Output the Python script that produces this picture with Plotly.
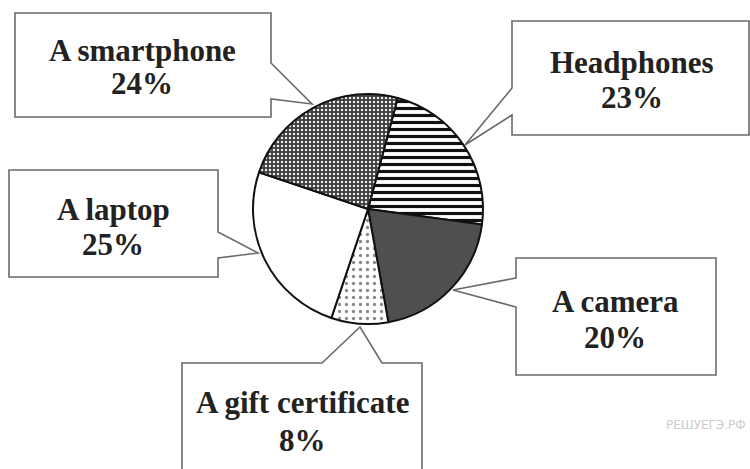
import plotly.graph_objects as go

# ---- data ----
categories = ["Headphones", "A camera", "A gift certificate", "A laptop", "A smartphone"]
values = [23, 20, 8, 25, 24]
label_texts = ["23%", "20%", "8%", "25%", "24%"]

W, H = 750, 469

def px(x):
    return x / W

def py(y):
    return 1 - y / H

# pie geometry (pixels)
cx, cy, r = 368, 209, 115

fig = go.Figure()
fig.add_trace(go.Pie(
    labels=categories,
    values=values,
    sort=False,
    direction="clockwise",
    rotation=15,
    textinfo="none",
    hoverinfo="skip",
    showlegend=False,
    domain=dict(x=[px(cx - r), px(cx + r)], y=[py(cy + r), py(cy - r)]),
    marker=dict(
        colors=["white", "#4f4f4f", "white", "white", "#3c3c3c"],
        line=dict(color="#111111", width=2),
        pattern=dict(
            shape=["-", "", ".", "", "."],
            fgcolor=["#111111", "#4f4f4f", "#8a8a8a", "white", "#eeeeee"],
            bgcolor=["white", "#4f4f4f", "white", "white", "#3c3c3c"],
            size=[7, 6, 7, 6, 4],
            solidity=[0.45, 0.3, 0.18, 0.3, 0.3],
            fillmode="replace",
        ),
    ),
))

# callout boxes: (polygon in pixel coords), text centre x, line-1 y, line-2 y
boxes = [
    # Headphones
    ([(512, 21), (749, 21), (749, 135), (512, 135), (512, 115), (465, 145), (512, 88)],
     632, 62, 98),
    # A camera
    ([(516, 258), (716, 258), (716, 375), (516, 375), (516, 307), (453, 290), (516, 278)],
     615, 301, 337),
    # A gift certificate
    ([(182, 363), (322, 363), (360, 327), (382, 363), (422, 363), (422, 472), (182, 472)],
     302, 402, 440),
    # A laptop
    ([(9, 170), (218, 170), (218, 232), (258, 253), (218, 258), (218, 277), (9, 277)],
     113, 209, 245),
    # A smartphone
    ([(15, 13), (271, 13), (271, 63), (312, 104), (271, 99), (271, 117), (15, 117)],
     142, 51, 84),
]

shapes = []
annotations = []
font = dict(family="'Times New Roman', 'Liberation Serif', 'DejaVu Serif', serif",
            size=31, color="#222222")
for i, (poly, tx, ty1, ty2) in enumerate(boxes):
    path = "M " + " L ".join(f"{px(x):.5f},{py(y):.5f}" for x, y in poly) + " Z"
    shapes.append(dict(type="path", xref="paper", yref="paper", path=path,
                       fillcolor="white", line=dict(color="#6a6a6a", width=1.6),
                       layer="above"))
    annotations.append(dict(x=px(tx), y=py(ty1), xref="paper", yref="paper",
                            text=f"<b>{categories[i]}</b>", showarrow=False,
                            xanchor="center", yanchor="middle", font=font))
    annotations.append(dict(x=px(tx), y=py(ty2), xref="paper", yref="paper",
                            text=f"<b>{label_texts[i]}</b>", showarrow=False,
                            xanchor="center", yanchor="middle", font=font))

annotations.append(dict(x=px(664), y=py(425), xref="paper", yref="paper",
                        text="РЕШУЕГЭ.РФ", showarrow=False, xanchor="left",
                        yanchor="middle",
                        font=dict(family="DejaVu Sans", size=12, color="#cccccc")))

fig.update_layout(
    width=W, height=H,
    margin=dict(l=0, r=0, t=0, b=0),
    paper_bgcolor="white",
    plot_bgcolor="white",
    shapes=shapes,
    annotations=annotations,
)

fig.write_html("out.html",
               config={"displayModeBar": False},
               post_script="document.body.style.margin='0';document.body.style.padding='0';")
